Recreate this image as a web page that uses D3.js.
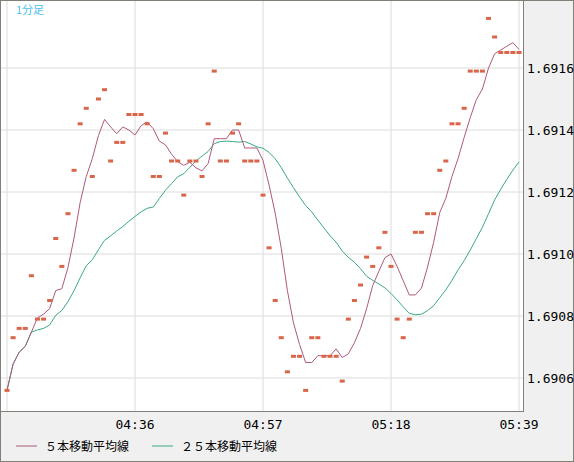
<!DOCTYPE html><html><head><meta charset="utf-8"><script src="https://cdn.jsdelivr.net/npm/d3@7"></script>
<style>body{margin:0;background:#f0f0f0}svg{display:block}</style></head><body><svg id="c" width="574" height="462"></svg>
<script>
const startTime = "04:15";
const prices = [1.69056,1.69073,1.69076,1.69076,1.69093,1.69079,1.69079,1.69085,1.69105,1.69096,1.69113,1.69127,1.69142,1.69147,1.69125,1.69150,1.69153,1.69130,1.69136,1.69136,1.69145,1.69145,1.69145,1.69142,1.69125,1.69125,1.69139,1.69130,1.69130,1.69119,1.69130,1.69130,1.69125,1.69142,1.69159,1.69130,1.69130,1.69139,1.69142,1.69130,1.69130,1.69130,1.69119,1.69102,1.69085,1.69073,1.69062,1.69067,1.69067,1.69056,1.69073,1.69073,1.69067,1.69067,1.69067,1.69059,1.69079,1.69085,1.69090,1.69099,1.69096,1.69102,1.69107,1.69096,1.69079,1.69073,1.69079,1.69107,1.69107,1.69113,1.69113,1.69127,1.69130,1.69142,1.69142,1.69147,1.69159,1.69159,1.69159,1.69176,1.69170,1.69165,1.69165,1.69165,1.69165];
const xTicks = ["04:36","04:57","05:18","05:39"];
const yTicks = [1.6906,1.6908,1.6910,1.6912,1.6914,1.6916];
const legendLabels = ["５本移動平均線","２５本移動平均線"];
const title = "1分足";

const toMin = s => {const [h,m]=s.split(":").map(Number);return h*60+m;};
const t0 = toMin(startTime);
const data = prices.map((v,i)=>({t:t0+i,v}));
function ma(n){return data.map((d,i)=>{const s=data.slice(Math.max(0,i-n+1),i+1);return {t:d.t,v:d3.mean(s,e=>e.v)};});}
const svg = d3.select("#c");
const L=1,R=523,T=1,B=411;
const x = d3.scaleLinear().domain([t0,t0+84]).range([7,519]);
const y = d3.scaleLinear().domain([1.6906,1.6916]).range([378,68]);
svg.append("rect").attr("x",L).attr("y",T).attr("width",R-L).attr("height",B-T).attr("fill","#fff");
const g=svg.append("g");
g.selectAll(".hy").data(yTicks).join("line").attr("x1",L).attr("x2",R).attr("y1",d=>y(d)).attr("y2",d=>y(d)).attr("stroke","#dcdcdc");
const xv=[t0,...xTicks.map(toMin)];
g.selectAll(".vx").data(xv).join("line").attr("y1",T).attr("y2",B).attr("x1",d=>x(d)).attr("x2",d=>x(d)).attr("stroke","#dcdcdc");
const line=d3.line().x(d=>x(d.t)).y(d=>y(d.v));
g.append("path").datum(ma(25)).attr("d",line).attr("fill","none").attr("stroke","#3aaa82").attr("stroke-width",1);
g.append("path").datum(ma(5)).attr("d",line).attr("fill","none").attr("stroke","#b0587e").attr("stroke-width",1);
g.selectAll(".p").data(data).join("rect").attr("x",d=>x(d.t)-2.5).attr("y",d=>y(d.v)-1.5).attr("width",5).attr("height",3).attr("fill","#d9654a");
svg.append("rect").attr("x",0.5).attr("y",0.5).attr("width",R).attr("height",B).attr("fill","none").attr("stroke","#808078");
svg.append("rect").attr("x",0.5).attr("y",0.5).attr("width",573).attr("height",461).attr("fill","none").attr("stroke","#808078");
svg.append("text").attr("x",16).attr("y",14).attr("fill","#4ac0f0").attr("font-size",11).attr("font-family","Noto Sans CJK JP").text(title);
svg.selectAll(".yl").data(yTicks).join("text").attr("x",527).attr("y",d=>y(d)+5).attr("font-size",13).attr("font-family","DejaVu Sans Mono").attr("fill","#000").text(d=>d.toFixed(4));
svg.selectAll(".xl").data(xTicks).join("text").attr("x",d=>x(toMin(d))).attr("y",429).attr("text-anchor","middle").attr("font-size",13).attr("font-family","DejaVu Sans Mono").text(d=>d);
const cols=["#b0587e","#3aaa82"],lx=[16,152];
legendLabels.forEach((s,i)=>{svg.append("line").attr("x1",lx[i]).attr("x2",lx[i]+21).attr("y1",446).attr("y2",446).attr("stroke",cols[i]);
svg.append("text").attr("x",lx[i]+29).attr("y",451).attr("font-size",12).attr("font-family","Noto Sans CJK JP").text(s);});
</script></body></html>
